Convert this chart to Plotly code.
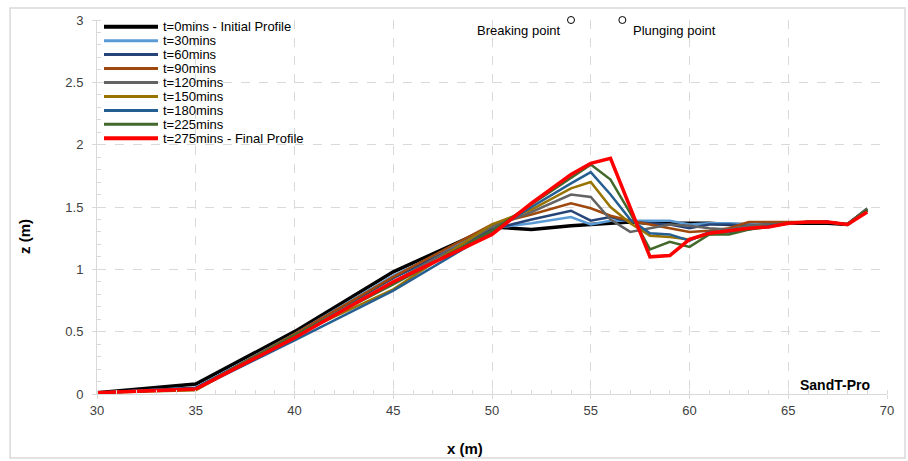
import plotly.graph_objects as go

# Cross-shore positions (m)
x_pos = [30, 35, 40, 45, 50, 52, 54, 55, 56, 57, 58, 59, 60, 61, 62, 63, 64, 65, 66, 67, 68, 69]

# Bed elevation profiles z (m) at each survey time
z_t0 = [0.01, 0.08, 0.50, 0.98, 1.34, 1.32, 1.35, 1.36, 1.37, 1.38, 1.37, 1.37, 1.37, 1.37, 1.36, 1.36, 1.36, 1.37, 1.37, 1.37, 1.36, 1.48]
z_t30 = [0.01, 0.05, 0.48, 0.95, 1.33, 1.37, 1.42, 1.36, 1.39, 1.39, 1.39, 1.39, 1.36, 1.37, 1.37, 1.36, 1.37, 1.37, 1.38, 1.38, 1.36, 1.48]
z_t60 = [0.01, 0.05, 0.47, 0.93, 1.32, 1.40, 1.47, 1.39, 1.42, 1.38, 1.37, 1.36, 1.33, 1.36, 1.36, 1.35, 1.36, 1.37, 1.38, 1.38, 1.36, 1.48]
z_t90 = [0.01, 0.04, 0.48, 0.94, 1.36, 1.44, 1.53, 1.49, 1.43, 1.39, 1.36, 1.33, 1.30, 1.31, 1.33, 1.38, 1.38, 1.38, 1.38, 1.38, 1.36, 1.48]
z_t120 = [0.01, 0.04, 0.47, 0.90, 1.34, 1.46, 1.60, 1.58, 1.40, 1.30, 1.33, 1.36, 1.35, 1.33, 1.32, 1.35, 1.36, 1.37, 1.38, 1.38, 1.36, 1.49]
z_t150 = [0.01, 0.03, 0.47, 0.84, 1.36, 1.48, 1.65, 1.70, 1.50, 1.37, 1.27, 1.26, 1.24, 1.28, 1.30, 1.33, 1.35, 1.37, 1.38, 1.38, 1.36, 1.48]
z_t180 = [0.01, 0.04, 0.43, 0.83, 1.30, 1.50, 1.69, 1.78, 1.60, 1.40, 1.29, 1.28, 1.23, 1.30, 1.30, 1.32, 1.35, 1.37, 1.38, 1.38, 1.36, 1.48]
z_t225 = [0.01, 0.04, 0.47, 0.88, 1.31, 1.52, 1.73, 1.84, 1.72, 1.45, 1.16, 1.22, 1.18, 1.28, 1.28, 1.32, 1.34, 1.37, 1.38, 1.38, 1.36, 1.48]
z_t275 = [0.01, 0.04, 0.45, 0.90, 1.28, 1.53, 1.76, 1.85, 1.89, 1.50, 1.10, 1.11, 1.24, 1.29, 1.31, 1.33, 1.34, 1.37, 1.38, 1.38, 1.36, 1.46]

series_names = ["t=0mins - Initial Profile", "t=30mins", "t=60mins", "t=90mins", "t=120mins",
                "t=150mins", "t=180mins", "t=225mins", "t=275mins - Final Profile"]
series_values = [z_t0, z_t30, z_t60, z_t90, z_t120, z_t150, z_t180, z_t225, z_t275]
series_colors = ["#000000", "#5B9BD5", "#264478", "#9E480E", "#636363",
                 "#997300", "#255E91", "#43682B", "#FF0000"]
series_widths = [3.5, 2.5, 2.5, 2.5, 2.5, 2.5, 2.5, 2.5, 3.5]

# Wave breaking / plunging locations
point_x = [54.0, 56.6]
point_z = [3.0, 3.0]
point_labels = ["Breaking point", "Plunging point"]

FONT = "Liberation Sans, Arial, sans-serif"

# Plot-area geometry in pixels (used to place the compact legend)
W, H = 908, 461
M_L, M_R, M_T, M_B = 97, 21, 20, 67
PW, PH = W - M_L - M_R, H - M_T - M_B


def px_to_paper_x(px):
    return (px - M_L) / PW


def px_to_paper_y(py):
    return (H - M_B - py) / PH


fig = go.Figure()
for name, vals, col, w in zip(series_names, series_values, series_colors, series_widths):
    fig.add_trace(go.Scatter(x=x_pos, y=vals, mode="lines", name=name, showlegend=False,
                             line=dict(color=col, width=w)))

fig.add_trace(go.Scatter(x=point_x, y=point_z, mode="markers", showlegend=False,
                         cliponaxis=False,
                         marker=dict(symbol="circle-open", size=7, color="#000000",
                                     line=dict(width=1))))

fig.add_annotation(x=point_x[0], y=point_z[0], text=point_labels[0], showarrow=False,
                   xanchor="right", yanchor="top", xshift=-9, yshift=-1,
                   font=dict(family=FONT, size=13, color="#000000"))
fig.add_annotation(x=point_x[1], y=point_z[1], text=point_labels[1], showarrow=False,
                   xanchor="left", yanchor="top", xshift=9, yshift=-1,
                   font=dict(family=FONT, size=13, color="#000000"))

fig.add_annotation(x=69.25, y=0.07, text="<b>SandT-Pro</b>", showarrow=False,
                   xanchor="right", yanchor="middle",
                   font=dict(family=FONT, size=14, color="#000000"))

# Compact legend: line sample + label per series, 14 px per row
for i, (name, col, w) in enumerate(zip(series_names, series_colors, series_widths)):
    yc = px_to_paper_y(26.7 + 13.95 * i)
    fig.add_shape(type="line", xref="paper", yref="paper",
                  x0=px_to_paper_x(104), x1=px_to_paper_x(158), y0=yc, y1=yc,
                  line=dict(color=col, width=w + 0.5))
    fig.add_annotation(xref="paper", yref="paper", x=px_to_paper_x(161), y=yc,
                       text=name, showarrow=False, xanchor="left", yanchor="middle",
                       font=dict(family=FONT, size=13, color="#000000"))

# Axis titles
fig.add_annotation(xref="paper", yref="paper", x=0.466, y=-0.145, text="<b>x (m)</b>",
                   showarrow=False, xanchor="center", yanchor="middle",
                   font=dict(family=FONT, size=15, color="#000000"))
fig.add_annotation(xref="paper", yref="paper", x=-0.091, y=0.42, text="<b>z (m)</b>",
                   showarrow=False, textangle=-90, xanchor="center", yanchor="middle",
                   font=dict(family=FONT, size=15, color="#000000"))

# Outer chart border
fig.add_shape(type="rect", xref="paper", yref="paper", x0=-0.110, x1=1.0228,
              y0=-0.171, y1=1.032, line=dict(color="#D9D9D9", width=1.5), layer="below")

axis_common = dict(
    showgrid=True, gridcolor="#D9D9D9", griddash="dash", gridwidth=1,
    showline=True, linecolor="#D9D9D9", linewidth=1,
    ticks="outside", ticklen=4, tickcolor="#D9D9D9",
    tickfont=dict(family=FONT, size=13, color="#404040"),
    zeroline=False,
)

fig.update_xaxes(range=[30, 70], dtick=5, tick0=30,
                 minor=dict(dtick=1, ticks="inside", ticklen=4, tickcolor="#D9D9D9", showgrid=False),
                 **axis_common)
fig.update_yaxes(range=[0, 3], dtick=0.5, tick0=0, ticklabelstandoff=6,
                 minor=dict(dtick=0.1, ticks="inside", ticklen=4, tickcolor="#D9D9D9", showgrid=False),
                 **axis_common)

fig.update_layout(
    width=W, height=H,
    margin=dict(l=M_L, r=M_R, t=M_T, b=M_B),
    paper_bgcolor="#FFFFFF", plot_bgcolor="#FFFFFF",
    font=dict(family=FONT, size=12, color="#000000"),
    showlegend=False,
)

fig.write_html("out.html")
